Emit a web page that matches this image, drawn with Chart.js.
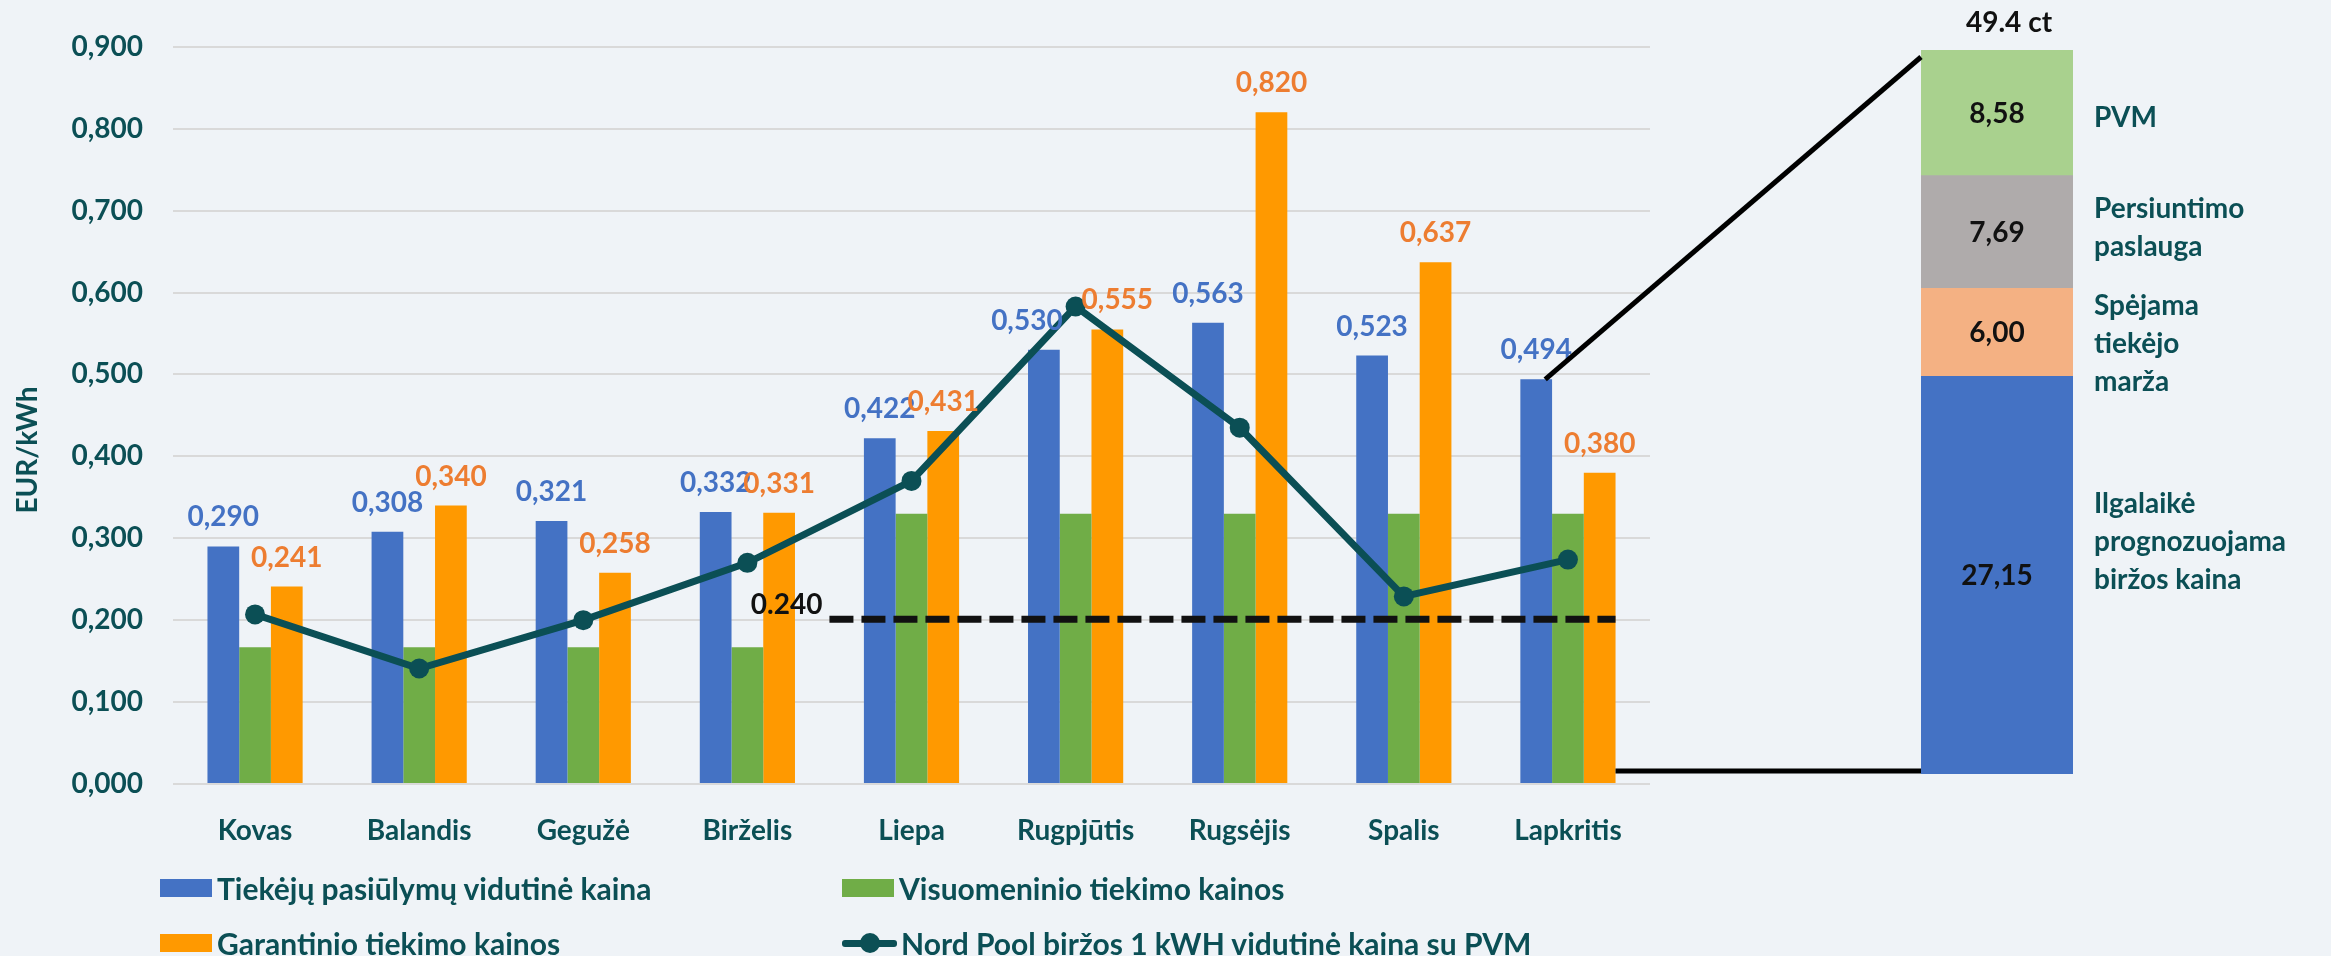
<!DOCTYPE html>
<html lang="lt">
<head>
<meta charset="utf-8">
<script src="https://cdn.jsdelivr.net/npm/chart.js@4.4.1/dist/chart.umd.min.js"></script>
<style>
  html, body { margin: 0; padding: 0; background: #EFF3F7; }
  #wrap { position: relative; width: 2331px; height: 956px; overflow: hidden; font-family: Lato, "Open Sans", sans-serif; }
  #wrap canvas { position: absolute; left: 0; top: 0; }
  .lg { position: absolute; display: flex; align-items: center; font-weight: bold; font-size: 30px; color: #0B4F55; white-space: nowrap; }
  .sw { width: 52px; height: 18px; margin-right: 5px; }
  .ln { position: relative; width: 55px; height: 20px; margin-right: 4px; }
  .ln i { position: absolute; left: 0; right: 0; top: 7px; height: 7px; border-radius: 3px; }
  .ln b { position: absolute; left: 18px; top: 0; width: 20px; height: 20px; border-radius: 50%; }
</style>
</head>
<body>
<div id="wrap">
  <canvas id="mainChart" width="2331" height="956"></canvas>
  <canvas id="splitChart" width="2331" height="956"></canvas>
</div>
<script>
const months = ['Kovas', 'Balandis', 'Gegužė', 'Birželis', 'Liepa', 'Rugpjūtis', 'Rugsėjis', 'Spalis', 'Lapkritis'];
const supplierAvg = [0.290, 0.308, 0.321, 0.332, 0.422, 0.530, 0.563, 0.523, 0.494];
const publicSupply = [0.167, 0.167, 0.167, 0.167, 0.330, 0.330, 0.330, 0.330, 0.330];
const guaranteed = [0.241, 0.340, 0.258, 0.331, 0.431, 0.555, 0.820, 0.637, 0.380];
const nordPool = [0.207, 0.141, 0.200, 0.270, 0.370, 0.583, 0.435, 0.229, 0.274];
const yMax = 0.9;
const yStep = 0.1;
const refLineValue = 0.201;
const refLineLabel = '0.240';

const splitNames = [['Ilgalaikė', 'prognozuojama', 'biržos kaina'], ['Spėjama', 'tiekėjo', 'marža'], ['Persiuntimo', 'paslauga'], ['PVM']];
const splitValues = [27.15, 6.00, 7.69, 8.58];

const TEAL = '#0B4F55';
const FONT = 'Lato, "Open Sans", sans-serif';
const fmt3 = v => v.toFixed(3).replace('.', ',');
const fmt2 = v => v.toFixed(2).replace('.', ',');

// small nudges where labels would collide (Rugpjūtis)
const blueDx = [0, 0, 0, 0, 0, -17, 0, 0, 0];
const orangeDx = [0, 0, 0, 0, 0, 10, 0, 0, 0];

const mainLabels = {
  id: 'mainLabels',
  afterDatasetsDraw(chart) {
    const ctx = chart.ctx;
    ctx.save();
    ctx.font = 'bold 28px ' + FONT;
    ctx.textAlign = 'center';
    ctx.textBaseline = 'alphabetic';
    [[0, '#4472C4', blueDx], [2, '#ED7D31', orangeDx]].forEach(([i, color, dx]) => {
      ctx.fillStyle = color;
      chart.getDatasetMeta(i).data.forEach((bar, j) => {
        ctx.fillText(fmt3(chart.data.datasets[i].data[j]), bar.x + dx[j], bar.y - 20);
      });
    });

    // dashed reference line
    const xs = chart.scales.x, ys = chart.scales.y;
    const ly = ys.getPixelForValue(refLineValue);
    const x0 = (xs.getPixelForValue(3) + xs.getPixelForValue(4)) / 2;
    const last = chart.getDatasetMeta(2).data[8];
    const x1 = last.x + last.width / 2;
    ctx.strokeStyle = '#111';
    ctx.lineWidth = 7;
    ctx.setLineDash([24, 8]);
    ctx.beginPath();
    ctx.moveTo(x0, ly);
    ctx.lineTo(x1, ly);
    ctx.stroke();
    ctx.setLineDash([]);
    ctx.fillStyle = '#111';
    ctx.textAlign = 'right';
    ctx.fillText(refLineLabel, x0 - 7, ly - 5);

    // y axis title
    ctx.translate(28, 450);
    ctx.rotate(-Math.PI / 2);
    ctx.textAlign = 'center';
    ctx.textBaseline = 'middle';
    ctx.font = 'bold 28px ' + FONT;
    ctx.fillStyle = TEAL;
    ctx.fillText('EUR/kWh', 0, 0);
    ctx.restore();
  }
};

const mainChart = new Chart(document.getElementById('mainChart'), {
  type: 'bar',
  data: {
    labels: months,
    datasets: [
      { label: 'Tiekėjų pasiūlymų vidutinė kaina', data: supplierAvg, backgroundColor: '#4472C4' },
      { label: 'Visuomeninio tiekimo kainos', data: publicSupply, backgroundColor: '#70AD47' },
      { label: 'Garantinio tiekimo kainos', data: guaranteed, backgroundColor: '#FF9900' },
      {
        type: 'line', label: 'Nord Pool biržos 1 kWH vidutinė kaina su PVM', data: nordPool,
        borderColor: TEAL, backgroundColor: TEAL, borderWidth: 7,
        pointRadius: 10, pointBorderWidth: 0, pointBackgroundColor: TEAL, tension: 0, order: -1
      }
    ]
  },
  options: {
    responsive: false,
    animation: false,
    barPercentage: 1,
    categoryPercentage: 0.58,
    layout: { padding: { top: 45, right: 681, left: 0, bottom: 0 } },
    plugins: { legend: { display: false }, tooltip: { enabled: false } },
    scales: {
      x: {
        grid: { display: false },
        border: { display: false },
        ticks: { color: TEAL, font: { family: FONT, size: 28, weight: 'bold' }, padding: 22 },
        afterFit(scale) { scale.height = 172; }
      },
      y: {
        min: 0,
        max: yMax,
        grid: { color: '#D9D9D9', lineWidth: 2, drawTicks: false },
        border: { display: false },
        ticks: {
          stepSize: yStep,
          padding: 30,
          color: TEAL,
          font: { family: FONT, size: 28, weight: 'bold' },
          callback: v => fmt3(v)
        },
        afterFit(scale) { scale.width = 173; }
      }
    }
  },
  plugins: [mainLabels]
});

const splitLabels = {
  id: 'splitLabels',
  afterDatasetsDraw(chart) {
    const ctx = chart.ctx;
    ctx.save();
    const els = chart.data.datasets.map((d, i) => chart.getDatasetMeta(i).data[0]);
    const nameDy = [-34, 11, -5, 4];
    els.forEach((el, i) => {
      const cy = (el.y + el.base) / 2;
      ctx.font = 'bold 28px ' + FONT;
      ctx.textAlign = 'center';
      ctx.textBaseline = 'alphabetic';
      ctx.fillStyle = '#111';
      ctx.fillText(fmt2(splitValues[i]), el.x, cy + 10);
      const lines = splitNames[i];
      ctx.textAlign = 'left';
      ctx.fillStyle = TEAL;
      const first = cy + nameDy[i] - (lines.length - 1) * 38 / 2;
      lines.forEach((t, k) => ctx.fillText(t, el.x + el.width / 2 + 21, first + k * 38 + 10));
    });
    const top = els[els.length - 1];
    const total = splitValues.reduce((a, b) => a + b, 0);
    ctx.textAlign = 'center';
    ctx.fillStyle = '#111';
    ctx.fillText(total.toFixed(1) + ' ct', top.x + 12, top.y - 18);

    // connectors to the Lapkritis bars
    const blue = mainChart.getDatasetMeta(0).data[8];
    const orange = mainChart.getDatasetMeta(2).data[8];
    const left = chart.chartArea.left;
    ctx.strokeStyle = '#000';
    ctx.lineWidth = 5;
    ctx.beginPath();
    ctx.moveTo(blue.x + 9, blue.y);
    ctx.lineTo(left, top.y + 7);
    ctx.stroke();
    const by = chart.scales.y.getPixelForValue(0) - 3;
    ctx.beginPath();
    ctx.moveTo(orange.x + orange.width / 2, by);
    ctx.lineTo(left, by);
    ctx.stroke();
    ctx.restore();
  }
};

new Chart(document.getElementById('splitChart'), {
  type: 'bar',
  data: {
    labels: ['Lapkritis'],
    datasets: [
      { label: 'Ilgalaikė prognozuojama biržos kaina', data: [splitValues[0]], backgroundColor: '#4472C4' },
      { label: 'Spėjama tiekėjo marža', data: [splitValues[1]], backgroundColor: '#F4B183' },
      { label: 'Persiuntimo paslauga', data: [splitValues[2]], backgroundColor: '#AFABAB' },
      { label: 'PVM', data: [splitValues[3]], backgroundColor: '#A9D18E' }
    ]
  },
  options: {
    responsive: false,
    animation: false,
    barPercentage: 1,
    categoryPercentage: 1,
    layout: { padding: { left: 1921, right: 258, top: 50, bottom: 182 } },
    plugins: { legend: { display: false }, tooltip: { enabled: false } },
    scales: {
      x: { display: false, stacked: true },
      y: { display: false, stacked: true, min: 0, max: splitValues.reduce((a, b) => a + b, 0) }
    }
  },
  plugins: [splitLabels]
});

// legend, two columns
const wrap = document.getElementById('wrap');
const legendPos = [[160, 888], [842, 888], [160, 943], [842, 943]];
mainChart.data.datasets.forEach((ds, i) => {
  const item = document.createElement('div');
  item.className = 'lg';
  item.style.left = legendPos[i][0] + 'px';
  item.style.top = (legendPos[i][1] - 18) + 'px';
  item.style.height = '36px';
  let mark;
  if (ds.type === 'line') {
    mark = document.createElement('span');
    mark.className = 'ln';
    mark.innerHTML = '<i style="background:' + ds.borderColor + '"></i><b style="background:' + ds.borderColor + '"></b>';
  } else {
    mark = document.createElement('span');
    mark.className = 'sw';
    mark.style.background = ds.backgroundColor;
  }
  item.appendChild(mark);
  item.appendChild(document.createTextNode(ds.label));
  wrap.appendChild(item);
});
</script>
</body>
</html>
